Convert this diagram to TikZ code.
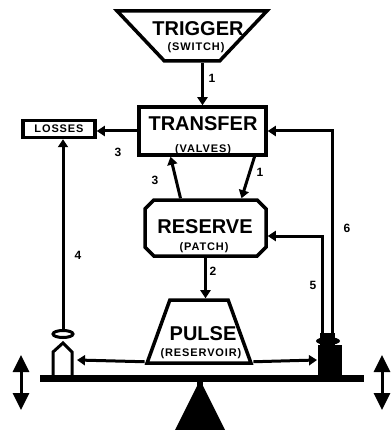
\documentclass[tikz,border=0pt]{standalone}
\usepackage{fontspec}
\setmainfont{Liberation Sans}
\newfontfamily\subfont[LetterSpace=8.0]{Liberation Sans}
\usetikzlibrary{shapes.geometric,shapes.misc,arrows.meta}
\begin{document}
\begin{tikzpicture}[x=1pt,y=-1pt,
    box/.style={draw,line width=3.5pt,inner sep=2pt},
    ttl/.style={font=\fontsize{20}{20}\selectfont\bfseries},
    sub/.style={font=\subfont\fontsize{11}{11}\selectfont\bfseries},
    num/.style={font=\fontsize{12}{12}\selectfont\bfseries},
    arr/.style={line width=3pt,-{Triangle[length=8pt,width=10pt]}},
    updown/.style={line width=3pt,{Triangle[length=17pt,width=16pt]}-{Triangle[length=17pt,width=16pt]}}]
\useasboundingbox (0,0) rectangle (390,430);
% boxes
\node (trigger) [box,trapezium,shape border rotate=180,trapezium stretches=true,
    trapezium left angle=50,trapezium right angle=50,minimum width=150pt,minimum height=50pt] at (192,36) {\phantom{X}};
\node (trigtxt) [ttl] at (198,29) {TRIGGER};
\node (trigsub) [sub] at (196,48) {(SWITCH)};
\node (transfer) [box,rectangle,minimum width=127pt,minimum height=48pt] at (202.5,131) {};
\node (transtxt) [ttl] at (203,124) {TRANSFER};
\node (transsub) [sub] at (203,150) {(VALVES)};
\node (losses) [box,rectangle,minimum width=72pt,minimum height=17pt,inner sep=0pt,sub] at (59,129) {LOSSES};
\node (reserve) [box,chamfered rectangle,chamfered rectangle xsep=18pt,
    minimum width=121pt,minimum height=56pt] at (205.5,228) {\phantom{X}};
\node (restxt) [ttl] at (205,227) {RESERVE};
\node (ressub) [sub] at (204,248) {(PATCH)};
\node (pulse) [box,trapezium,trapezium stretches=true,trapezium left angle=69,
    trapezium right angle=69,minimum width=104pt,minimum height=63pt] at (199,331.5) {\phantom{X}};
\node (pulsetxt) [ttl] at (203,334) {PULSE};
\node (pulsesub) [sub] at (201,354) {(RESERVOIR)};
% balance
\fill (40,375) rectangle (364,382);
\fill (197,380) rectangle (203,386);
\fill (200,380) -- (225,430) -- (175,430) -- cycle;
\node (ring) [draw,line width=3pt,ellipse,minimum width=20pt,minimum height=7pt,inner sep=0pt] at (63,334) {};
\draw[line width=3pt] (53,376) -- (53,352) -- (63,343) -- (72,352) -- (72,376);
\coordinate (lweight) at (77,360);
\fill (318,376) rectangle (342,345);
\fill (328,341) ellipse [x radius=12pt,y radius=4pt];
\fill (320,345) rectangle (335,333);
\coordinate (rwa) at (322,334);
\coordinate (rwb) at (332,334);
\coordinate (rweight) at (317,360);
\draw[updown] (21,355) -- (21,410);
\draw[updown] (382,355) -- (382,410);
% flows
\draw[arr] (transfer.north |- trigger.south) -- (transfer.north);
\draw[arr] (transfer.west) -- (transfer.west -| losses.east);
\draw[arr] ([xshift=-25pt]reserve.north) -- ([xshift=-32pt]transfer.south);
\draw[arr] ([xshift=52pt]transfer.south) -- ([xshift=36pt]reserve.north);
\draw[arr] (reserve.south) -- (reserve.south |- pulse.north);
\draw[arr] (ring.north) -- (ring.north |- losses.south);
\draw[arr] (rwa) |- ([yshift=-8pt]reserve.east);
\draw[arr] (rwb) |- (transfer.east);
\draw[arr] ([yshift=3pt]pulse.bottom left corner) -- (lweight);
\draw[arr] ([yshift=3pt]pulse.bottom right corner) -- (rweight);
% numbers
\node [num] at (212,78) {1};
\node [num] at (118,152) {3};
\node [num] at (155,180) {3};
\node [num] at (260,172) {1};
\node [num] at (213,271) {2};
\node [num] at (78,255) {4};
\node [num] at (313,285) {5};
\node [num] at (347,228) {6};
\end{tikzpicture}
\end{document}
